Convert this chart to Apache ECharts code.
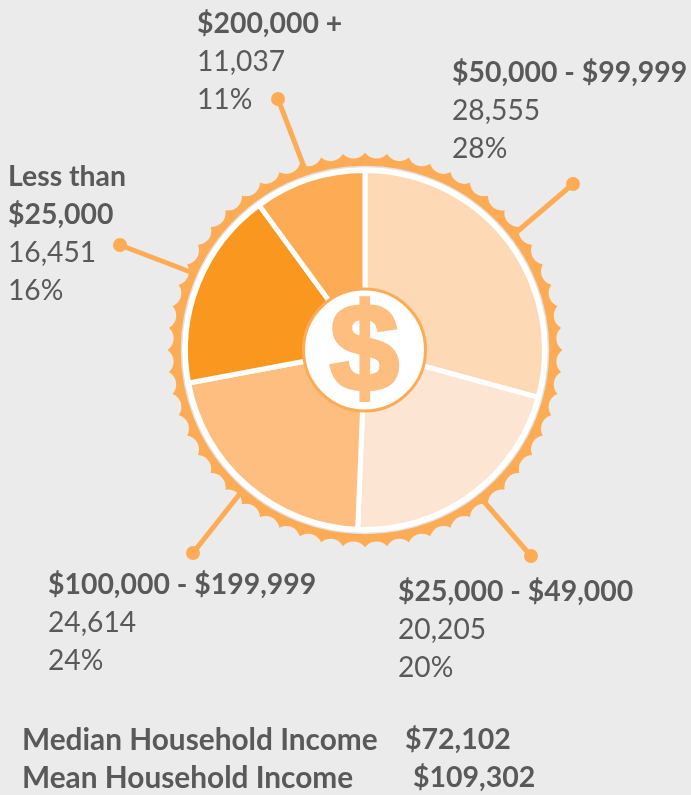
<!DOCTYPE html>
<html><head><meta charset="utf-8">
<style>html,body{margin:0;padding:0;background:#ebebeb}#c{width:691px;height:795px}</style>
<script src="https://cdn.jsdelivr.net/npm/echarts@6/dist/echarts.min.js"></script>
</head><body><div id="c"></div>
<script>
// Printed label content
const categories = ['$50,000 - $99,999', '$25,000 - $49,000', '$100,000 - $199,999', 'Less than\n$25,000', '$200,000 +'];
const households = ['28,555', '20,205', '24,614', '16,451', '11,037'];
const percents = ['28%', '20%', '24%', '16%', '11%'];
// Slice sizes as drawn in the reference (percent of the circle, read off its angles;
// the drawn slices differ slightly from the printed counts)
const drawnShares = [29.25, 21.4, 21.4, 17.9, 10.05];
const sliceColors = ['#FDD9B5', '#FDE5D3', '#FDBE80', '#F9971E', '#FDAC55'];
const labelSpots = [[452, 54], [398, 573], [48, 566], [8, 158], [197, 5]];
const leaders = [[512, 236, 573, 184], [480, 497, 531, 556], [242, 491, 193, 553], [193, 273, 120, 245], [306, 172, 278, 99]];
const summary = [['Median Household Income', '$72,102', 405, 740], ['Mean Household Income', '$109,302', 413, 778]];

const cx = 365, cy = 350, bg = '#ebebeb', ringColor = '#FDAC55', ink = '#595959', face = 'Lato';
const graphics = [];
graphics.push({type:'circle', z:0, shape:{cx, cy, r:197.5}, style:{fill:ringColor}});
const nBites = 56;
for (let i = 0; i < nBites; i++) {
  const a = (i + 0.5) / nBites * 2 * Math.PI;
  graphics.push({type:'circle', z:1, shape:{cx: cx + 205.7 * Math.cos(a), cy: cy + 205.7 * Math.sin(a), r:14}, style:{fill:bg}});
}
leaders.forEach(l => {
  graphics.push({type:'line', z:2, shape:{x1:l[0], y1:l[1], x2:l[2], y2:l[3]}, style:{stroke:ringColor, lineWidth:5}});
  graphics.push({type:'circle', z:2, shape:{cx:l[2], cy:l[3], r:7}, style:{fill:ringColor}});
});
graphics.push({type:'circle', z:3, shape:{cx, cy, r:183.5}, style:{fill:'#ffffff', stroke:'#e2e2e2', lineWidth:1.5}});
graphics.push({type:'circle', z:50, shape:{cx:364.5, cy:350, r:61}, style:{fill:'#ffffff', stroke:ringColor, lineWidth:3}});
graphics.push({type:'text', z:51, style:{x:364.5, y:357, text:'$', align:'center', verticalAlign:'middle', fill:'#FDBE80', stroke:'#FDBE80', lineWidth:4, font:'bold 124px "Liberation Sans"'}});
summary.forEach(s => {
  graphics.push({type:'text', z:5, style:{x:22, y:s[3], text:s[0], verticalAlign:'middle', fill:ink, font:'bold 29.8px ' + face}});
  graphics.push({type:'text', z:5, style:{x:s[2], y:s[3], text:s[1], verticalAlign:'middle', fill:ink, font:'bold 28.5px ' + face}});
});

const chart = echarts.init(document.getElementById('c'), null, {renderer:'canvas'});
chart.setOption({
  backgroundColor: bg,
  animation: false,
  graphic: {elements: graphics},
  series: [{
    type: 'pie',
    z: 10,
    center: [cx, cy],
    radius: [0, 179.5],
    startAngle: 90,
    clockwise: true,
    data: categories.map((name, i) => ({name, value: drawnShares[i], itemStyle:{color: sliceColors[i]}})),
    itemStyle: {borderColor:'#ffffff', borderWidth:5},
    emphasis: {disabled:true},
    labelLine: {show:false},
    label: {
      show: true,
      position: 'outside',
      alignTo: 'none',
      align: 'left',
      overflow: 'none',
      width: 400,
      formatter: p => {
        const i = p.dataIndex;
        const nameLines = categories[i].split('\n').map(t => '{n|' + t + '}').join('\n');
        return nameLines + '\n{v|' + households[i] + '}\n{v|' + percents[i] + '}';
      },
      rich: {
        n: {fontFamily:face, fontWeight:'bold', fontSize:28.4, lineHeight:38, color:ink, align:'left'},
        v: {fontFamily:face, fontSize:28.2, lineHeight:38, color:ink, align:'left'}
      }
    },
    labelLayout: p => ({x: labelSpots[p.dataIndex][0], y: labelSpots[p.dataIndex][1], align:'left', verticalAlign:'top', hideOverlap:false})
  }]
});
</script></body></html>
